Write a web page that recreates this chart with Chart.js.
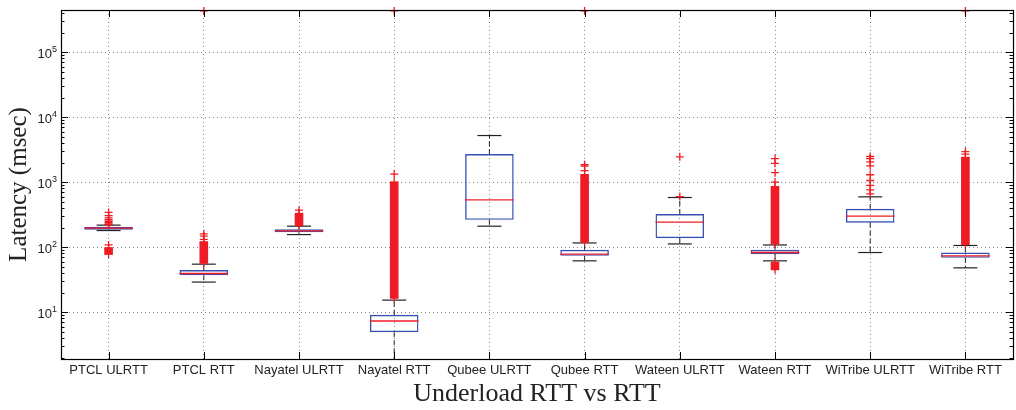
<!DOCTYPE html>
<html>
<head>
<meta charset="utf-8">
<script src="https://cdn.jsdelivr.net/npm/chart.js@4.4.1/dist/chart.umd.min.js"></script>
<style>
  html, body { margin: 0; padding: 0; background: #fff; }
  #wrap { width: 1016px; height: 410px; }
</style>
</head>
<body>
<div id="wrap"><canvas id="c" width="1016" height="410"></canvas></div>
<script>
// ---- data ----
const categories = ['PTCL ULRTT','PTCL RTT','Nayatel ULRTT','Nayatel RTT','Qubee ULRTT','Qubee RTT','Wateen ULRTT','Wateen RTT','WiTribe ULRTT','WiTribe RTT'];
const q1          = [185, 37,   170, 4.9,  263,  73.5, 137, 78,   237, 68.4];
const median      = [196, 39.3, 178, 7.3,  535,  78,   243, 82.6, 300, 73.5];
const q3          = [205, 44.3, 189, 9.1,  2700, 90.8, 322, 90.8, 388, 82.6];
const whiskerLow  = [180, 29,   156, 1.2,  210,  61.5, 112, 61.5, 82.6, 48];
const whiskerHigh = [218, 54.7, 210, 15.3, 5210, 116,  580, 108,  594, 106];

// individual outliers ('+')
const outPTCLUL   = [342, 305, 282, 265, 250, 238, 228, 221, 108, 97, 78];
const outPTCLRTT  = [430000, 160, 148, 132, 120, 57];
const outNayUL    = [370, 330, 215];
const outNayRTT   = [430000, 1330, 1000, 16.5];
const outQubeeUL  = [];
const outQubeeRTT = [430000, 1850, 1760, 1500, 1300, 120];
const outWateenUL = [600, 2450];
const outWateenRTT= [2300, 1950, 1400, 1000, 850, 112, 58, 45];
const outWiTribeUL  = [2480, 2300, 2050, 1780, 1300, 1060, 890, 760, 660];
const outWiTribeRTT = [430000, 2950, 2700, 2400, 110];

// dense outlier ranges (solid columns of '+')
const bandCategory = ['PTCL ULRTT','PTCL RTT','Nayatel ULRTT','Nayatel RTT','Qubee RTT','Wateen RTT','Wateen RTT','WiTribe RTT'];
const bandLow      = [78, 57, 215, 16.5, 120, 112, 45, 110];
const bandHigh     = [97, 120, 330, 1000, 1300, 850, 58, 2400];

const yMajorTicks = [10, 100, 1000, 10000, 100000];
const yMin = 1.9, yMax = 445000;
const xTitle = 'Underload RTT vs RTT';
const yTitle = 'Latency (msec)';

// ---- build library structures ----
const outlierLists = [outPTCLUL, outPTCLRTT, outNayUL, outNayRTT, outQubeeUL, outQubeeRTT, outWateenUL, outWateenRTT, outWiTribeUL, outWiTribeRTT];
const outlierPoints = [];
outlierLists.forEach((list, i) => list.forEach(v => outlierPoints.push({x: categories[i], y: v})));
const bandData = bandCategory.map((c, i) => ({x: c, y: [bandLow[i], bandHigh[i]]}));

const whiskerPoints = [];
categories.forEach((c, i) => {
  whiskerPoints.push({x: c, y: q3[i]}, {x: c, y: whiskerHigh[i]}, {x: c, y: null});
  whiskerPoints.push({x: c, y: q1[i]}, {x: c, y: whiskerLow[i]}, {x: c, y: null});
});
const capPoints = [];
categories.forEach((c, i) => { capPoints.push({x: c, y: whiskerHigh[i]}, {x: c, y: whiskerLow[i]}); });
const medianPoints = categories.map((c, i) => ({x: c, y: median[i]}));
const boxData = categories.map((c, i) => [q1[i], q3[i]]);

const yMinorTicks = [];
for (let e = 0; e <= 5; e++) for (let m = 2; m <= 9; m++) { const v = m * Math.pow(10, e); if (v > yMin && v < yMax) yMinorTicks.push(v); }

const RED = '#ee1c24', BLUE = '#3550b0', BLACK = '#222';

const axisDecor = {
  id: 'axisDecor',
  afterDraw(chart) {
    const {ctx, chartArea: a, scales: {x, y}} = chart;
    ctx.save();
    ctx.strokeStyle = '#000';
    ctx.lineWidth = 1;
    ctx.beginPath();
    yMinorTicks.forEach(v => {
      const p = Math.round(y.getPixelForValue(v)) + 0.5;
      ctx.moveTo(a.left, p); ctx.lineTo(a.left + 3.5, p);
      ctx.moveTo(a.right, p); ctx.lineTo(a.right - 3.5, p);
    });
    yMajorTicks.forEach(v => {
      const p = Math.round(y.getPixelForValue(v)) + 0.5;
      ctx.moveTo(a.left, p); ctx.lineTo(a.left + 7, p);
      ctx.moveTo(a.right, p); ctx.lineTo(a.right - 7, p);
    });
    categories.forEach((c, i) => {
      const p = Math.round(x.getPixelForValue(i)) + 0.5;
      ctx.moveTo(p, a.bottom); ctx.lineTo(p, a.bottom - 7);
      ctx.moveTo(p, a.top); ctx.lineTo(p, a.top + 7);
    });
    ctx.stroke();
    ctx.lineWidth = 1.2;
    ctx.strokeRect(Math.round(a.left) + 0.5, Math.round(a.top) + 0.5, Math.round(a.width), Math.round(a.height));
    // y tick labels 10^n
    ctx.fillStyle = '#222';
    ctx.textAlign = 'left';
    ctx.textBaseline = 'alphabetic';
    yMajorTicks.forEach(v => {
      const p = y.getPixelForValue(v);
      const exp = String(Math.round(Math.log10(v)));
      ctx.font = '9px "Liberation Sans", Arial, sans-serif';
      const ew = ctx.measureText(exp).width;
      ctx.font = '13px "Liberation Sans", Arial, sans-serif';
      const bw = ctx.measureText('10').width;
      const right = a.left - 4;
      ctx.fillText('10', right - ew - bw, p + 5.5);
      ctx.font = '9px "Liberation Sans", Arial, sans-serif';
      ctx.fillText(exp, right - ew, p);
    });
    ctx.restore();
  }
};

new Chart(document.getElementById('c'), {
  type: 'bar',
  data: {
    labels: categories,
    datasets: [
      {
        type: 'scatter', label: 'outliers', data: outlierPoints,
        pointStyle: 'cross', radius: 4, borderColor: RED, backgroundColor: RED, borderWidth: 1.3,
        clip: 8
      },
      {
        type: 'bar', label: 'dense outliers', data: bandData,
        backgroundColor: RED, borderWidth: 0, barThickness: 8, grouped: false
      },
      {
        type: 'scatter', label: 'median', data: medianPoints,
        pointStyle: 'line', radius: 24.3, borderColor: RED, borderWidth: 1.3, clip: 0
      },
      {
        type: 'scatter', label: 'caps', data: capPoints,
        pointStyle: 'line', radius: 12, borderColor: BLACK, borderWidth: 1.2, clip: 0
      },
      {
        type: 'line', label: 'whiskers', data: whiskerPoints,
        borderColor: BLACK, borderWidth: 1, borderDash: [5, 3], pointRadius: 0,
        spanGaps: false, fill: false, clip: 0
      },
      {
        type: 'bar', label: 'box', data: boxData,
        backgroundColor: 'rgba(0,0,0,0)', borderColor: BLUE, borderWidth: 1.4, borderSkipped: false,
        barPercentage: 0.51, categoryPercentage: 1.0, grouped: false
      }
    ]
  },
  options: {
    responsive: false,
    animation: false,
    events: [],
    layout: { autoPadding: false, padding: { top: 10, right: 3, left: 0, bottom: 0 } },
    plugins: { legend: { display: false }, tooltip: { enabled: false } },
    scales: {
      x: {
        type: 'category',
        offset: true,
        grid: { display: true, offset: false, color: '#888', lineWidth: 1, drawTicks: false },
        border: { display: false, dash: [1, 3] },
        ticks: { font: { family: '"Liberation Sans", Arial, sans-serif', size: 13 }, color: '#222', padding: 4, maxRotation: 0, autoSkip: false },
        title: { display: true, text: xTitle, font: { family: '"Liberation Serif", "Times New Roman", serif', size: 26 }, color: '#222', padding: { top: 0, bottom: 0 } },
        afterFit(s) { s.height = 51; }
      },
      y: {
        type: 'logarithmic',
        min: yMin, max: yMax,
        afterBuildTicks(s) { s.ticks = yMajorTicks.map(v => ({ value: v })); },
        grid: { display: true, color: '#888', lineWidth: 1, drawTicks: false },
        border: { display: false, dash: [1, 3] },
        ticks: { display: false },
        title: { display: true, text: yTitle, font: { family: '"Liberation Serif", "Times New Roman", serif', size: 25 }, color: '#222', padding: { top: 4, bottom: 0 } },
        afterFit(s) { s.width = 61; }
      }
    }
  },
  plugins: [axisDecor]
});
</script>
</body>
</html>
